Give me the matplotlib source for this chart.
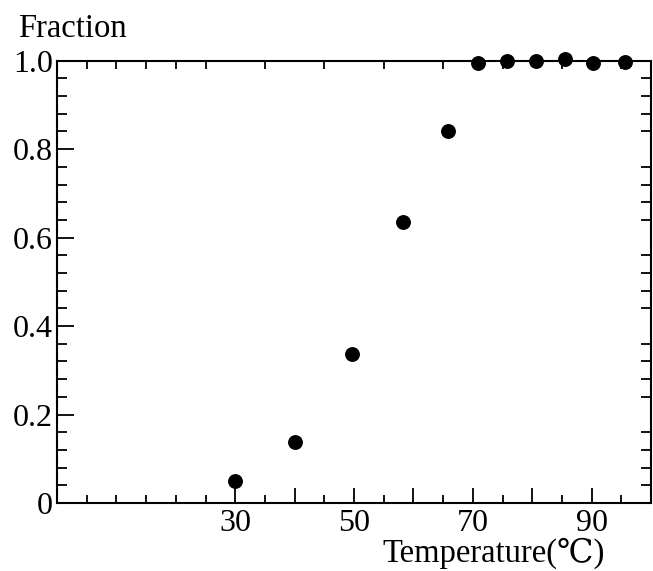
import matplotlib.pyplot as plt
from matplotlib.ticker import FixedLocator, MultipleLocator

plt.rcParams["font.family"] = ["Liberation Serif", "DejaVu Serif", "DejaVu Sans"]

temperature = [30.0, 40.0, 49.7, 58.2, 65.8, 70.8, 75.7, 80.6, 85.6, 90.3, 95.7]
fraction = [0.050, 0.138, 0.337, 0.635, 0.841, 0.995, 0.999, 0.999, 1.003, 0.995, 0.997]

y_ticks = [0, 0.2, 0.4, 0.6, 0.8, 1.0]
y_labels = ["0", "0.2", "0.4", "0.6", "0.8", "1.0"]
x_ticks = [30, 40, 50, 60, 70, 80, 90]
x_labels = ["30", "", "50", "", "70", "", "90"]

fig = plt.figure(figsize=(6.53, 5.71), dpi=100)
ax = fig.add_axes([57 / 653, 68 / 571, 594 / 653, 442.3 / 571])

ax.plot(temperature, fraction, "o", color="black", markersize=9.7, clip_on=False, zorder=5)

ax.set_xlim(0, 100)
ax.set_ylim(0, 1.0)

for s in ax.spines.values():
    s.set_linewidth(1.5)

# y axis
ax.yaxis.set_major_locator(FixedLocator(y_ticks))
ax.set_yticklabels(y_labels)
ax.yaxis.set_minor_locator(MultipleLocator(0.04))
# x axis: long ticks every 10 from 30, short every 5
ax.xaxis.set_major_locator(FixedLocator(x_ticks))
ax.set_xticklabels(x_labels)
ax.xaxis.set_minor_locator(MultipleLocator(5))

ax.tick_params(axis="both", which="both", direction="in", labelsize=23, width=1.3)
ax.tick_params(axis="y", which="major", length=12, pad=3, right=False)
ax.tick_params(axis="y", which="minor", length=7, right=True)
ax.tick_params(axis="x", which="major", length=11, pad=4, top=False)
ax.tick_params(axis="x", which="minor", length=6, top=True)

fig.text(18 / 653, (571 - 37) / 571, "Fraction", fontsize=23.5, ha="left", va="baseline")
fig.text(605 / 653, (571 - 562) / 571, "Temperature(℃)", fontsize=23.5, ha="right", va="baseline")

fig.savefig("out.png", dpi=100)
